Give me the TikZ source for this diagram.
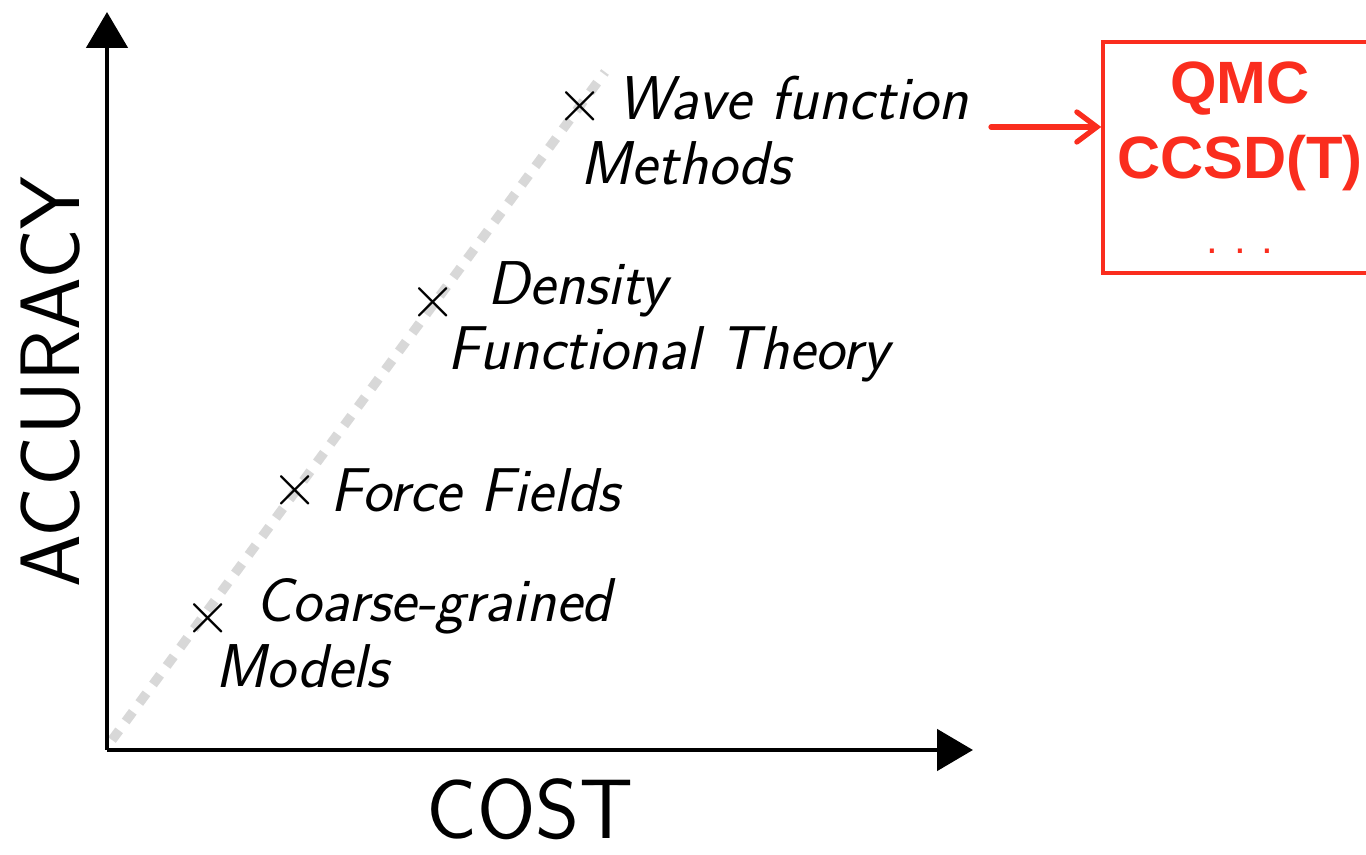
\documentclass[tikz,border=0pt]{standalone}
\usepackage{fontspec}
\usepackage{amsmath}
\usetikzlibrary{arrows.meta}

\newfontfamily\boxfont{Liberation Sans}
\definecolor{qmcred}{RGB}{250,45,30}
\definecolor{trendgray}{RGB}{216,216,216}

\begin{document}
\begin{tikzpicture}[
    axis/.style={line width=1.4pt, -{Triangle[length=0.36cm, width=0.41cm]}},
    method/.style={anchor=base west, inner sep=0pt, font=\fontsize{17.6}{20}\selectfont\sffamily\slshape},
    cross/.style={inner sep=0pt, font=\fontsize{19}{20}\selectfont}
  ]
      \useasboundingbox (0,0) rectangle (13.66,8.55);

      % Variables
      \def \orgx {1.07}
      \def \orgy {1.05}

      % Trend line
      \draw [trendgray, line width=2.7pt, dash pattern=on 0.12cm off 0.11cm] (1.12,1.15) -- (6.05,7.83);

      % Axis
      \coordinate (origin) at (\orgx,\orgy);
      \coordinate (ytip) at (\orgx,8.43);
      \coordinate (xtip) at (9.73,\orgy);
      \draw [axis] (origin) -- (ytip);
      \draw [axis] (origin) -- (xtip);

      % Axis labels
      \node (cost) [anchor=base, inner sep=0pt, font=\fontsize{24}{28}\selectfont\sffamily] at (5.30,0.16) {COST};
      \node (accuracy) [anchor=base, rotate=90, inner sep=0pt, font=\fontsize{24}{28}\selectfont\sffamily] at (0.80,4.73) {ACCURACY};

      % Crosses
      \node (cgx)  [cross] at (2.08,2.37) {$\times$};
      \node (ffx)  [cross] at (2.95,3.65) {$\times$};
      \node (dftx) [cross] at (4.33,5.53) {$\times$};
      \node (wfx)  [cross] at (5.80,7.49) {$\times$};

      % Method labels
      \node (cg1)  [method] at (2.55,2.33) {Coarse-grained};
      \node (cg2)  [method] at (2.15,1.67) {Models};
      \node (ff)   [method] at (3.30,3.43) {Force Fields};
      \node (dft1) [method] at (4.87,5.50) {Density};
      \node (dft2) [method] at (4.47,4.85) {Functional Theory};
      \node (wf1)  [method] at (6.17,7.35) {Wave function};
      \node (wf2)  [method] at (5.80,6.70) {Methods};

      % High accuracy box
      \node (hiacc) [draw=qmcred, line width=1pt, text=qmcred, minimum width=2.74cm, minimum height=2.31cm,
                     align=center, font=\fontsize{17}{21.3}\selectfont\boxfont\bfseries] at (12.40,6.975)
                     {QMC\\CCSD(T)\\{\mdseries\fontsize{12}{14}\selectfont . . .}};
      \coordinate (arrstart) at (9.91,7.28);
      \draw [qmcred, line width=1.5pt, line cap=round, -{Straight Barb[length=0.2cm, width=0.3cm, line cap=round]}] (arrstart) -- (arrstart -| hiacc.west);

\end{tikzpicture}
\end{document}
